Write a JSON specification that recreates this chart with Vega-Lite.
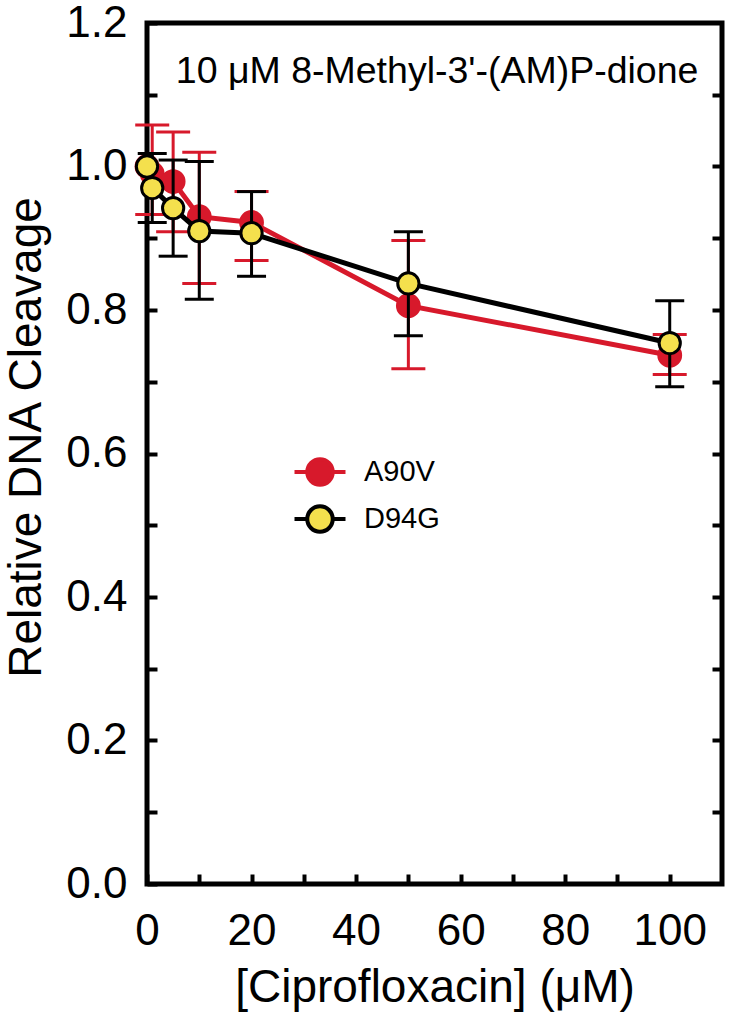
{
  "$schema": "https://vega.github.io/schema/vega-lite/v6.json",
  "width": 575,
  "height": 861,
  "autosize": {"type": "none"},
  "padding": {"left": 147, "top": 23, "right": 8, "bottom": 132},
  "background": "white",
  "config": {
    "font": "Liberation Sans",
    "view": {"stroke": "black", "strokeWidth": 5},
    "axis": {"grid": false, "domain": false, "labelFont": "Liberation Sans", "titleFont": "Liberation Sans", "labelColor": "black", "titleColor": "black", "tickColor": "black", "titleFontWeight": "normal", "labelFlush": false, "labelOverlap": false, "labelBound": false},
    "legend": {"labelFontSize": 29, "labelFont": "Liberation Sans", "labelColor": "black"}
  },
  "data": {"values": [
    {"s": "A90V", "x": 0, "y": 1.0},
    {"s": "A90V", "x": 1, "y": 0.99, "lo": 0.933, "hi": 1.058},
    {"s": "A90V", "x": 5, "y": 0.979, "lo": 0.909, "hi": 1.048},
    {"s": "A90V", "x": 10, "y": 0.93, "lo": 0.837, "hi": 1.02},
    {"s": "A90V", "x": 20, "y": 0.922, "lo": 0.869, "hi": 0.965},
    {"s": "A90V", "x": 50, "y": 0.806, "lo": 0.718, "hi": 0.897},
    {"s": "A90V", "x": 100, "y": 0.737, "lo": 0.71, "hi": 0.766},
    {"s": "D94G", "x": 0, "y": 1.0},
    {"s": "D94G", "x": 1, "y": 0.97, "lo": 0.922, "hi": 1.018},
    {"s": "D94G", "x": 5, "y": 0.942, "lo": 0.875, "hi": 1.009},
    {"s": "D94G", "x": 10, "y": 0.91, "lo": 0.815, "hi": 1.007},
    {"s": "D94G", "x": 20, "y": 0.907, "lo": 0.847, "hi": 0.965},
    {"s": "D94G", "x": 50, "y": 0.837, "lo": 0.764, "hi": 0.909},
    {"s": "D94G", "x": 100, "y": 0.754, "lo": 0.693, "hi": 0.813}
  ]},
  "resolve": {"axis": {"y": "independent", "x": "independent"}},
  "layer": [
    {
      "transform": [{"filter": "datum.s === 'A90V' && datum.lo != null"}],
      "mark": {"type": "rule", "color": "#d7192b", "strokeWidth": 3},
      "encoding": {
        "x": {"field": "x", "type": "quantitative", "scale": {"domain": [0, 110], "nice": false, "zero": false},
          "axis": {"orient": "bottom", "values": [0, 10, 20, 30, 40, 50, 60, 70, 80, 90, 100], "labelExpr": "datum.value % 20 === 0 ? datum.label : ''", "tickSize": -10, "tickWidth": 4, "labelPadding": 70, "labelBaseline": "alphabetic", "labelFontSize": 44, "title": "[Ciprofloxacin] (μM)", "titleFontSize": 46, "titleBaseline": "alphabetic", "titleY": 117,
            "encode": {"ticks": {"update": {"y2": {"signal": "datum.value % 20 === 0 ? -11 : -6"}}}}}},
        "y": {"field": "lo", "type": "quantitative", "scale": {"domain": [0, 1.2], "nice": false, "zero": false},
          "axis": {"orient": "left", "values": [0, 0.1, 0.2, 0.3, 0.4, 0.5, 0.6, 0.7, 0.8, 0.9, 1.0, 1.1, 1.2], "labelExpr": "round(datum.value*10) % 2 === 0 ? format(datum.value, '.1f') : ''", "tickSize": -10, "tickWidth": 4, "labelPadding": 30, "labelFontSize": 44, "title": "Relative DNA Cleavage", "titleFontSize": 46, "titleBaseline": "alphabetic", "titleX": -107, "titleY": 414}},
        "y2": {"field": "hi"}
      }
    },
    {
      "transform": [{"filter": "datum.s === 'A90V' && datum.lo != null"}, {"fold": ["lo", "hi"], "as": ["k", "v"]}],
      "mark": {"type": "tick", "orient": "horizontal", "color": "#d7192b", "size": 34, "thickness": 3, "opacity": 1},
      "encoding": {
        "x": {"field": "x", "type": "quantitative", "axis": null},
        "y": {"field": "v", "type": "quantitative",
          "axis": {"orient": "right", "values": [0.1, 0.2, 0.3, 0.4, 0.5, 0.6, 0.7, 0.8, 0.9, 1.0, 1.1], "labels": false, "tickSize": -10, "tickWidth": 4, "title": null}}
      }
    },
    {
      "transform": [{"filter": "datum.s === 'A90V'"}],
      "mark": {"type": "line", "strokeWidth": 5},
      "encoding": {
        "x": {"field": "x", "type": "quantitative", "axis": null},
        "y": {"field": "y", "type": "quantitative", "axis": null},
        "color": {"field": "s", "type": "nominal", "scale": {"domain": ["A90V", "D94G"], "range": ["#d7192b", "#000000"]},
          "legend": {"orient": "none", "legendX": 156, "legendY": 432, "title": null, "padding": 0, "symbolType": "M-1.7,0H-0.85M0.85,0H1.7M0.85,0A0.85,0.85,0,1,1,-0.85,0A0.85,0.85,0,1,1,0.85,0Z", "symbolSize": 900, "symbolStrokeWidth": 4, "labelFontSize": 29, "labelOffset": 27, "rowPadding": 5,
            "encode": {"symbols": {"update": {"fill": {"signal": "datum.value === 'A90V' ? '#d7192b' : '#f4e04d'"}, "stroke": {"signal": "datum.value === 'A90V' ? '#d7192b' : '#000000'"}, "strokeWidth": {"value": 4}, "opacity": {"value": 1}}}}}}
      }
    },
    {
      "transform": [{"filter": "datum.s === 'A90V'"}],
      "mark": {"type": "circle", "size": 616, "color": "#d7192b", "opacity": 1},
      "encoding": {
        "x": {"field": "x", "type": "quantitative", "axis": null},
        "y": {"field": "y", "type": "quantitative", "axis": null}
      }
    },
    {
      "transform": [{"filter": "datum.s === 'D94G' && datum.lo != null"}],
      "mark": {"type": "rule", "color": "#000000", "strokeWidth": 3},
      "encoding": {
        "x": {"field": "x", "type": "quantitative", "axis": null},
        "y": {"field": "lo", "type": "quantitative", "axis": null},
        "y2": {"field": "hi"}
      }
    },
    {
      "transform": [{"filter": "datum.s === 'D94G' && datum.lo != null"}, {"fold": ["lo", "hi"], "as": ["k", "v"]}],
      "mark": {"type": "tick", "orient": "horizontal", "color": "#000000", "size": 29, "thickness": 3, "opacity": 1},
      "encoding": {
        "x": {"field": "x", "type": "quantitative", "axis": null},
        "y": {"field": "v", "type": "quantitative", "axis": null}
      }
    },
    {
      "transform": [{"filter": "datum.s === 'D94G'"}],
      "mark": {"type": "line", "strokeWidth": 5},
      "encoding": {
        "x": {"field": "x", "type": "quantitative", "axis": null},
        "y": {"field": "y", "type": "quantitative", "axis": null},
        "color": {"field": "s", "type": "nominal", "scale": {"domain": ["A90V", "D94G"], "range": ["#d7192b", "#000000"]},
          "legend": {"orient": "none", "legendX": 156, "legendY": 432, "title": null, "padding": 0, "symbolType": "M-1.7,0H-0.85M0.85,0H1.7M0.85,0A0.85,0.85,0,1,1,-0.85,0A0.85,0.85,0,1,1,0.85,0Z", "symbolSize": 900, "symbolStrokeWidth": 4, "labelFontSize": 29, "labelOffset": 27, "rowPadding": 5,
            "encode": {"symbols": {"update": {"fill": {"signal": "datum.value === 'A90V' ? '#d7192b' : '#f4e04d'"}, "stroke": {"signal": "datum.value === 'A90V' ? '#d7192b' : '#000000'"}, "strokeWidth": {"value": 4}, "opacity": {"value": 1}}}}}}
      }
    },
    {
      "transform": [{"filter": "datum.s === 'D94G'"}],
      "mark": {"type": "circle", "size": 452, "color": "#f4e04d", "stroke": "#000000", "strokeWidth": 3, "opacity": 1},
      "encoding": {
        "x": {"field": "x", "type": "quantitative", "axis": null},
        "y": {"field": "y", "type": "quantitative", "axis": null}
      }
    },
    {
      "data": {"values": [{"label": "10 μM 8-Methyl-3'-(AM)P-dione"}]},
      "mark": {"type": "text", "fontSize": 37.5, "font": "Liberation Sans", "color": "black", "align": "center", "baseline": "middle"},
      "encoding": {
        "x": {"datum": 55.5, "type": "quantitative", "axis": null},
        "y": {"datum": 1.132, "type": "quantitative", "axis": null},
        "text": {"field": "label", "type": "nominal"}
      }
    }
  ]
}
